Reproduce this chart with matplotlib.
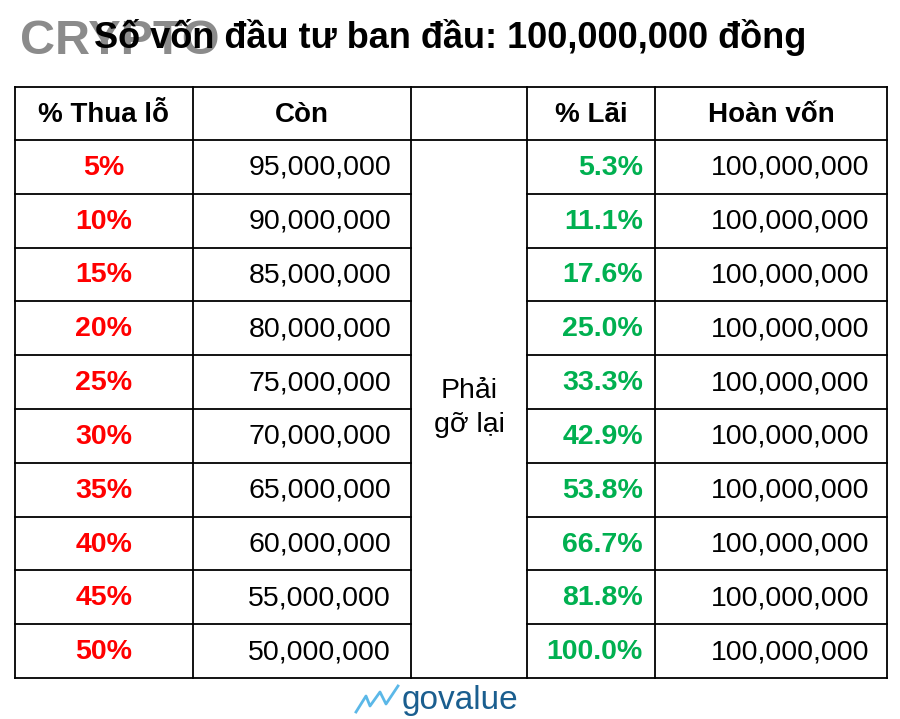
import matplotlib.pyplot as plt

plt.rcParams['font.family'] = ['Liberation Sans', 'DejaVu Sans']

title = "Số vốn đầu tư ban đầu: 100,000,000 đồng"
headers = ["% Thua lỗ", "Còn", "", "% Lãi", "Hoàn vốn"]
loss = ["5%", "10%", "15%", "20%", "25%", "30%", "35%", "40%", "45%", "50%"]
remain = ["95,000,000", "90,000,000", "85,000,000", "80,000,000", "75,000,000",
          "70,000,000", "65,000,000", "60,000,000", "55,000,000", "50,000,000"]
gain = ["5.3%", "11.1%", "17.6%", "25.0%", "33.3%", "42.9%", "53.8%", "66.7%", "81.8%", "100.0%"]
back = ["100,000,000"] * 10
middle = "Phải\ngỡ lại"

cols = [15, 193, 411, 527, 655, 887]
top, head_bot, bot = 87, 140, 678
n = len(loss)
rh = (bot - head_bot) / n

fig = plt.figure(figsize=(9, 7.19), dpi=100)
ax = fig.add_axes([0, 0, 1, 1])
ax.set_xlim(0, 900)
ax.set_ylim(719, 0)
ax.axis('off')

lw = 1.3
# outer and column lines
for x in cols:
    ax.plot([x, x], [top, bot], color='black', lw=lw)
ax.plot([cols[0], cols[-1]], [top, top], color='black', lw=lw)
ax.plot([cols[0], cols[-1]], [head_bot, head_bot], color='black', lw=lw)
for i in range(1, n + 1):
    y = head_bot + i * rh
    if i < n:
        ax.plot([cols[0], cols[2]], [y, y], color='black', lw=lw)
        ax.plot([cols[3], cols[5]], [y, y], color='black', lw=lw)
    else:
        ax.plot([cols[0], cols[-1]], [y, y], color='black', lw=lw)

fs = 20.5
for j, h in enumerate(headers):
    ax.text((cols[j] + cols[j + 1]) / 2, (top + head_bot) / 2 + 1, h, ha='center',
            va='center', fontsize=fs - 0.5, fontweight='bold')

for i in range(n):
    yc = head_bot + (i + 0.5) * rh + 1
    ax.text((cols[0] + cols[1]) / 2, yc, loss[i], ha='center', va='center',
            fontsize=fs, fontweight='bold', color='#ff0000')
    ax.text(cols[2] - 20, yc, remain[i], ha='right', va='center', fontsize=fs)
    ax.text(cols[4] - 12, yc, gain[i], ha='right', va='center', fontsize=fs,
            fontweight='bold', color='#00b050')
    ax.text(cols[5] - 18, yc, back[i], ha='right', va='center', fontsize=fs)

ax.text((cols[2] + cols[3]) / 2, 408, middle, ha='center', va='center',
        fontsize=fs, linespacing=1.35)

# faint watermark behind the title
ax.text(20, 42, "CRYPTO", ha='left', va='center', fontsize=35, fontweight='bold',
        color='#7f7f7f', alpha=0.9, zorder=1)
ax.text(450, 38, title, ha='center', va='center', fontsize=26, fontweight='bold',
        zorder=2)

ax.text(402, 700, "govalue", ha='left', va='center', fontsize=24, color='#1a5e8f')
ax.plot([356, 366, 370, 380, 386, 398], [712, 696, 706, 692, 704, 686],
        color='#5bb8e8', lw=2)

fig.savefig('out.png', dpi=100)
